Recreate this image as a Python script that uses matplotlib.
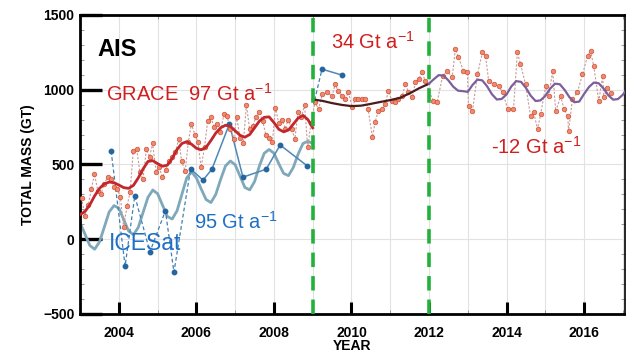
import numpy as np
import matplotlib.pyplot as plt

plt.rcParams['font.family'] = ['Liberation Sans', 'DejaVu Sans']
plt.rcParams['mathtext.fontset'] = 'custom'
plt.rcParams['mathtext.rm'] = 'Liberation Sans'

# Data

# GRACE monthly mass (Gt)
grace_t = [2003.04, 2003.12, 2003.21, 2003.29, 2003.37, 2003.46, 2003.54, 2003.62, 2003.71, 2003.79, 2003.87, 2003.96,
           2004.04, 2004.12, 2004.21, 2004.29, 2004.37, 2004.46, 2004.54, 2004.62, 2004.71, 2004.79, 2004.87, 2004.96,
           2005.04, 2005.12, 2005.21, 2005.29, 2005.37, 2005.46, 2005.54, 2005.62, 2005.71, 2005.79, 2005.87, 2005.96,
           2006.04, 2006.12, 2006.21, 2006.29, 2006.37, 2006.46, 2006.54, 2006.62, 2006.71, 2006.79, 2006.87, 2006.96,
           2007.04, 2007.12, 2007.21, 2007.29, 2007.37, 2007.46, 2007.54, 2007.62, 2007.71, 2007.79, 2007.87, 2007.96,
           2008.04, 2008.12, 2008.21, 2008.29, 2008.37, 2008.46, 2008.54, 2008.62, 2008.71, 2008.79, 2008.87, 2008.96,
           2009.06, 2009.15, 2009.25, 2009.37, 2009.50, 2009.58, 2009.66, 2009.76, 2009.84, 2009.92,
           2010.02, 2010.10, 2010.18, 2010.28, 2010.36, 2010.43, 2010.54, 2010.61, 2010.69, 2010.80, 2010.87, 2010.95,
           2011.05, 2011.13, 2011.20, 2011.31, 2011.39, 2011.47, 2011.57, 2011.65, 2011.73, 2011.83, 2011.90,
           2012.11, 2012.21, 2012.35, 2012.47, 2012.60, 2012.68, 2012.76, 2012.89, 2012.99,
           2013.02, 2013.12, 2013.25, 2013.38, 2013.46, 2013.54, 2013.67, 2013.80, 2013.90,
           2014.03, 2014.18, 2014.28, 2014.36, 2014.49, 2014.62, 2014.70, 2014.80, 2014.88,
           2015.01, 2015.09, 2015.19, 2015.27, 2015.40, 2015.48, 2015.58, 2015.60, 2015.70, 2015.83, 2015.96,
           2016.09, 2016.17, 2016.25, 2016.38, 2016.48, 2016.51, 2016.60, 2016.70]
grace_v = [275, 155, 230, 335, 435, 320, 300, 370, 415, 400, 350, 335,
           280, 80, 220, 315, 590, 600, 450, 400, 600, 550, 640, 450,
           480, 415, 465, 520, 550, 580, 670, 520, 455, 650, 770, 700,
           650, 480, 615, 790, 815, 750, 770, 720, 835, 825, 735, 670,
           820, 680, 640, 900, 740, 760, 820, 850, 790, 700, 680, 650,
           880, 780, 800, 740, 800, 736, 670, 850, 815, 900, 615, 780,
           916, 870, 970, 983, 957, 1037, 990, 957, 936, 983,
           883, 936, 936, 936, 936, 870, 682, 783, 856, 870, 903, 990,
           923, 916, 936, 957, 1037, 983, 950, 1050, 1070, 1117, 1057,
           923, 916, 1090, 1124, 1084, 1271, 1217, 1124, 1117,
           890, 856, 1104, 1251, 1224, 1057, 1037, 1023, 983,
           870, 870, 1251, 1171, 1037, 823, 849, 736, 836,
           1023, 957, 1124, 856, 957, 870, 823, 722, 936, 983, 1104,
           1224, 1258, 1157, 923, 1090, 950, 1010, 980]

# GRACE fit 2003-2009 (97 Gt/a)
fit1_t = [2003.000, 2003.125, 2003.250, 2003.375, 2003.500, 2003.625, 2003.750, 2003.875,
          2004.000, 2004.125, 2004.250, 2004.375, 2004.500, 2004.625, 2004.750, 2004.875,
          2005.000, 2005.125, 2005.250, 2005.375, 2005.500, 2005.625, 2005.750, 2005.875,
          2006.000, 2006.125, 2006.250, 2006.375, 2006.500, 2006.625, 2006.750, 2006.875,
          2007.000, 2007.125, 2007.250, 2007.375, 2007.500, 2007.625, 2007.750, 2007.875,
          2008.000, 2008.125, 2008.250, 2008.375, 2008.500, 2008.625, 2008.750, 2008.875, 2009.000]
fit1_v = [165, 185, 230, 290, 340, 370, 382, 378,
          362, 345, 340, 360, 410, 470, 520, 525,
          505, 488, 495, 540, 600, 640, 652, 635,
          608, 598, 615, 660, 710, 745, 762, 755,
          725, 695, 682, 700, 745, 790, 815, 818,
          780, 735, 718, 730, 770, 810, 828, 800, 745]

# GRACE fit 2009-2012 (34 Gt/a)
fit2_t = [2009.0, 2009.25, 2009.5, 2009.75, 2010.0, 2010.25, 2010.5, 2010.75, 2011.0, 2011.25, 2011.5, 2011.75, 2012.0]
fit2_v = [935, 925, 910, 898, 890, 893, 905, 918, 930, 945, 975, 1010, 1040]

# GRACE fit 2012-2017 (-12 Gt/a)
fit3_t = [2012.000, 2012.125, 2012.250, 2012.375, 2012.500, 2012.625, 2012.750, 2012.875,
          2013.000, 2013.125, 2013.250, 2013.375, 2013.500, 2013.625, 2013.750, 2013.875,
          2014.000, 2014.125, 2014.250, 2014.375, 2014.500, 2014.625, 2014.750, 2014.875,
          2015.000, 2015.125, 2015.250, 2015.375, 2015.500, 2015.625, 2015.750, 2015.875,
          2016.000, 2016.125, 2016.250, 2016.375, 2016.500, 2016.625, 2016.750, 2016.875, 2017.000, 2017.125]
fit3_v = [1040, 1070, 1097, 1094, 1062, 1020, 993, 990,
          985, 1032, 1067, 1062, 1022, 969, 934, 938,
          968, 1022, 1057, 1052, 1012, 959, 924, 928,
          958, 1007, 1040, 1036, 998, 949, 916, 920,
          971, 1017, 1047, 1043, 1009, 963, 933, 937, 966, 1010]

# ICESat campaigns
icesat_t = [2003.80, 2004.16, 2004.41, 2004.80, 2005.20, 2005.42, 2005.85,
            2006.17, 2006.40, 2006.85, 2007.20, 2007.80, 2008.16, 2008.86]
icesat_v = [590, -180, 290, -85, 190, -220, 470,
            395, 468, 770, 415, 468, 630, 490]
icesat_late_t = [2009.05, 2009.24, 2009.76]
icesat_late_v = [930, 1137, 1097]

# ICESat fit (95 Gt/a)
fit_ice_t = fit1_t
fit_ice_v = [110, 34, -42, -67, -18, 82, 183, 225,
             207, 131, 55, 30, 79, 180, 280, 329,
             304, 228, 152, 135, 190, 300, 410, 450,
             410, 335, 265, 245, 300, 400, 490, 523,
             498, 422, 346, 330, 385, 490, 575, 600,
             575, 505, 440, 425, 480, 570, 640, 655, 640]

breaks = [2009, 2012]

# Canvas

fig = plt.figure(figsize=(6.26, 3.54), dpi=100)
ax = fig.add_axes([0.128, 0.113, 0.870, 0.845])

# Grid

for yr in range(2004, 2018):
    ax.axvline(yr, color='#e2e2e2', lw=0.8, zorder=0)
for yv in [0, 500, 1000]:
    ax.axhline(yv, color='#e2e2e2', lw=0.8, zorder=0)

# Plots

ax.plot(fit_ice_t, fit_ice_v, color='#7fa8ba', lw=2.0, zorder=2)
ax.plot(icesat_t[:7], icesat_v[:7], color='#3f80b3', lw=0.9, ls=(0, (3, 2)), zorder=3)
ax.plot(icesat_t[6:], icesat_v[6:], color='#4f88b5', lw=1.1, zorder=3)
ax.plot(icesat_t, icesat_v, 'o', color='#2565a0', ms=3.2, zorder=4)
ax.plot(icesat_late_t[:2], icesat_late_v[:2], color='#3f80b3', lw=0.9, ls=(0, (3, 2)), zorder=3)
ax.plot(icesat_late_t[1:], icesat_late_v[1:], color='#4f88b5', lw=1.1, zorder=3)
ax.plot(icesat_late_t[1:], icesat_late_v[1:], 'o', color='#2565a0', ms=3.2, zorder=4)

ax.plot(grace_t, grace_v, color='#c89a96', lw=0.8, ls=(0, (2, 1.5)), zorder=3)
ax.plot(grace_t, grace_v, 'o', color='#ee8a6e', mec='#d0503a', mew=0.5, ms=3.3, zorder=4)

ax.plot(fit1_t, fit1_v, color='#c1272d', lw=2.0, zorder=5)
ax.plot(fit2_t, fit2_v, color='#4a1c1c', lw=1.6, zorder=5)
ax.plot(fit3_t, fit3_v, color='#7d5f9c', lw=1.6, zorder=5)

for b in breaks:
    ax.axvline(b, color='#22b23c', lw=2.6, ls=(0, (4, 2.5)), zorder=6)

# Text

red = '#d01f1f'
blue = '#1f6fc4'
ax.text(2003.45, 1270, 'AIS', fontsize=17, fontweight='bold', color='black', va='center')
ax.text(2003.68, 970, r'GRACE  97 Gt a$^{\mathregular{-1}}$', fontsize=14.5, color=red, va='center')
ax.text(2009.48, 1320, r'34 Gt a$^{\mathregular{-1}}$', fontsize=14.5, color=red, va='center')
ax.text(2013.6, 620, r'-12 Gt a$^{\mathregular{-1}}$', fontsize=14.5, color=red, va='center')
ax.text(2005.95, 115, r'95 Gt a$^{\mathregular{-1}}$', fontsize=14.5, color=blue, va='center')
ax.text(2003.75, -30, 'ICESat', fontsize=16.5, color=blue, va='center')

# Axes

ax.set_xlim(2003.0, 2017.05)
ax.set_ylim(-500, 1500)
ax.set_xticks(range(2004, 2018, 2))
ax.set_xticks(range(2003, 2018), minor=True)
ax.set_yticks([-500, 0, 500, 1000, 1500])
ax.set_yticks(range(-500, 1501, 100), minor=True)

ax.tick_params(axis='x', which='major', direction='in', length=9, width=2.2,
               labelsize=10, pad=9, top=False)
ax.tick_params(axis='x', which='minor', direction='in', length=3, width=0.6,
               color='#888888', top=True)
ax.tick_params(axis='y', which='major', direction='in', length=16, width=2.4,
               labelsize=10, pad=4)
ax.tick_params(axis='y', which='minor', direction='in', length=3, width=0.6,
               color='#888888', right=True)
for lab in ax.get_xticklabels() + ax.get_yticklabels():
    lab.set_fontweight('bold')

for s in ['left', 'bottom', 'top']:
    ax.spines[s].set_linewidth(2.0)
ax.spines['right'].set_linewidth(1.2)

ax.set_xlabel('YEAR', fontsize=10, fontweight='bold', labelpad=-1)
ax.set_ylabel('TOTAL MASS (GT)', fontsize=10, fontweight='bold', labelpad=6)

# Save

plt.savefig('out.png', dpi=100)
